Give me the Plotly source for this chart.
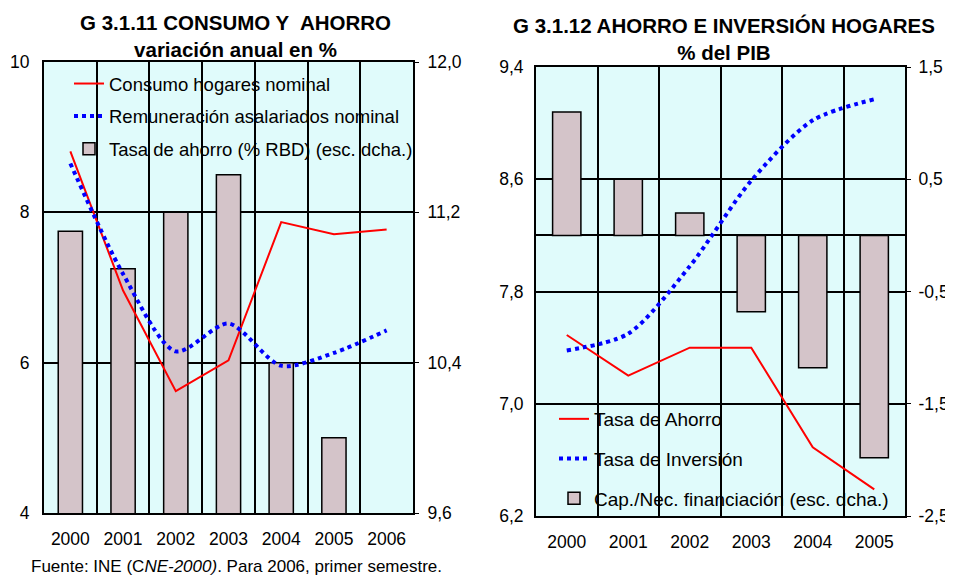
import plotly.graph_objects as go

# G 3.1.11 CONSUMO Y AHORRO (variación anual en %)
years_a = ["2000", "2001", "2002", "2003", "2004", "2005", "2006"]
consumo_hogares = [8.81, 6.96, 5.62, 6.03, 7.87, 7.71, 7.77]
remuneracion_asal = [8.65, 7.18, 6.15, 6.52, 5.96, 6.13, 6.43]
tasa_ahorro_rbd = [11.10, 10.90, 11.20, 11.40, 10.40, 10.00, None]

# G 3.1.12 AHORRO E INVERSION HOGARES (% del PIB)
years_b = ["2000", "2001", "2002", "2003", "2004", "2005"]
tasa_ahorro = [7.49, 7.20, 7.40, 7.40, 6.69, 6.39]
tasa_inversion = [7.38, 7.50, 7.98, 8.59, 9.02, 9.17]
cap_nec_financiacion = [1.10, 0.50, 0.20, -0.68, -1.18, -1.98]

# axis ticks
ticks_a_left = [4, 6, 8, 10]
ticks_a_right = [9.6, 10.4, 11.2, 12.0]
ticks_b_left = [6.2, 7.0, 7.8, 8.6, 9.4]
ticks_b_right = [-2.5, -1.5, -0.5, 0.5, 1.5]


def es(vals, fmt="{:.1f}"):
    return [fmt.format(v).replace(".", ",") for v in vals]


# the page body keeps its default 8px margin, so the figure is drawn 8px in
OFF = 8
W, H = 953 - OFF, 581 - OFF
PLOT_BG = "#e0fbfb"
BAR_COLOR = "#d4c4c9"
FONT = "Liberation Sans, Arial, sans-serif"


def px_x(x):
    return (x - OFF) / W


def px_y(y):
    return 1 - (y - OFF) / H


fig = go.Figure()

# left chart: lines on overlay (y2, left side), bars on main axis (y, right side)
fig.add_trace(go.Scatter(x=years_a, y=consumo_hogares, name="Consumo hogares nominal", mode="lines",
                         line=dict(color="#ff0000", width=2), xaxis="x", yaxis="y2",
                         legend="legend", legendgroup="a1", legendrank=1))
fig.add_trace(go.Scatter(x=years_a, y=remuneracion_asal, name="Remuneración asalariados nominal", mode="lines",
                         line=dict(color="#0000ff", width=4, dash="dot", shape="spline", smoothing=0.8),
                         xaxis="x", yaxis="y2", legend="legend", legendgroup="a2", legendrank=2))
fig.add_trace(go.Bar(x=years_a, y=tasa_ahorro_rbd, name="Tasa de ahorro (% RBD) (esc. dcha.)",
                     marker=dict(color=BAR_COLOR, line=dict(color="black", width=1.5)),
                     width=0.46, xaxis="x", yaxis="y", legend="legend", legendgroup="a3", legendrank=3))

# right chart: lines on y4 (left side), bars on y3 (right side)
fig.add_trace(go.Scatter(x=years_b, y=tasa_ahorro, name="Tasa de Ahorro", mode="lines",
                         line=dict(color="#ff0000", width=2), xaxis="x2", yaxis="y4",
                         legend="legend2", legendgroup="b1", legendrank=1))
fig.add_trace(go.Scatter(x=years_b, y=tasa_inversion, name="Tasa de Inversión", mode="lines",
                         line=dict(color="#0000ff", width=4, dash="dot", shape="spline", smoothing=0.8),
                         xaxis="x2", yaxis="y4", legend="legend2", legendgroup="b2", legendrank=2))
fig.add_trace(go.Bar(x=years_b, y=cap_nec_financiacion, name="Cap./Nec. financiación (esc. dcha.)",
                     marker=dict(color=BAR_COLOR, line=dict(color="black", width=1.5)),
                     width=0.46, xaxis="x2", yaxis="y3", legend="legend2", legendgroup="b3", legendrank=3))

tick_font = dict(family=FONT, size=17.5, color="black")
xcommon = dict(type="category", tickson="boundaries", showgrid=True, gridcolor="black", gridwidth=1.8,
               showline=True, linecolor="black", linewidth=2, mirror=True, ticks="",
               tickfont=tick_font, fixedrange=True, automargin=False, ticklabelstandoff=9)
ycommon = dict(showline=True, linecolor="black", linewidth=2, mirror=True,
               tickfont=tick_font, fixedrange=True, tickmode="array", automargin=False)

fig.update_layout(
    template="none",
    width=W, height=H, margin=dict(l=0, r=0, t=0, b=0, pad=0), autosize=False,
    paper_bgcolor="white", plot_bgcolor=PLOT_BG, showlegend=True, barmode="overlay",
    font=dict(family=FONT, color="black"),
    xaxis=dict(xcommon, domain=[px_x(44), px_x(413)], anchor="y"),
    yaxis=dict(ycommon, domain=[px_y(513), px_y(62)], anchor="x", side="right",
               range=[9.6, 12.0], tickvals=ticks_a_right, ticktext=es(ticks_a_right),
               showgrid=True, gridcolor="black", gridwidth=1.5, zeroline=False,
               ticks="outside", ticklen=4, tickcolor="black", ticklabelstandoff=5),
    yaxis2=dict(ycommon, overlaying="y", anchor="x", side="left", range=[4, 10],
                tickvals=ticks_a_left, ticktext=[str(v) for v in ticks_a_left],
                showgrid=False, zeroline=False, ticks="", ticklabelstandoff=9),
    xaxis2=dict(xcommon, domain=[px_x(536), px_x(905)], anchor="y3"),
    yaxis3=dict(ycommon, domain=[px_y(516), px_y(67)], anchor="x2", side="right",
                range=[-2.5, 1.5], tickvals=ticks_b_right, ticktext=es(ticks_b_right),
                showgrid=True, gridcolor="black", gridwidth=1.5,
                zeroline=True, zerolinecolor="black", zerolinewidth=1.5,
                ticks="outside", ticklen=4, tickcolor="black", ticklabelstandoff=4),
    yaxis4=dict(ycommon, overlaying="y3", anchor="x2", side="left", range=[6.2, 9.4],
                tickvals=ticks_b_left, ticktext=es(ticks_b_left),
                showgrid=False, zeroline=False, ticks="", ticklabelstandoff=7),
    legend=dict(x=px_x(69), y=px_y(65), xanchor="left", yanchor="top", bgcolor="rgba(0,0,0,0)",
                font=dict(family=FONT, size=18.5, color="black"), tracegroupgap=5.5,
                traceorder="grouped", itemclick=False, itemdoubleclick=False),
    legend2=dict(x=px_x(554), y=px_y(400), xanchor="left", yanchor="top", bgcolor="rgba(0,0,0,0)",
                 font=dict(family=FONT, size=19, color="black"), tracegroupgap=12,
                 traceorder="grouped", itemclick=False, itemdoubleclick=False),
    annotations=[
        dict(text="<b>G 3.1.11 CONSUMO Y\u00a0 AHORRO<br>variación anual en %</b>",
             x=px_x(235), y=px_y(36.5), xref="paper", yref="paper", xanchor="center", yanchor="middle",
             showarrow=False, align="center", font=dict(family=FONT, size=20.5, color="black")),
        dict(text="<b>G 3.1.12 AHORRO E INVERSIÓN HOGARES<br>% del PIB</b>",
             x=px_x(724), y=px_y(39), xref="paper", yref="paper", xanchor="center", yanchor="middle",
             showarrow=False, align="center", font=dict(family=FONT, size=20.5, color="black")),
        dict(text="Fuente: INE (C<i>NE-2000)</i>. Para 2006, primer semestre.",
             x=px_x(29), y=px_y(566), xref="paper", yref="paper", xanchor="left", yanchor="middle",
             showarrow=False, font=dict(family=FONT, size=17, color="black")),
    ],
)

fig.write_html("out.html", config=dict(displayModeBar=False))
